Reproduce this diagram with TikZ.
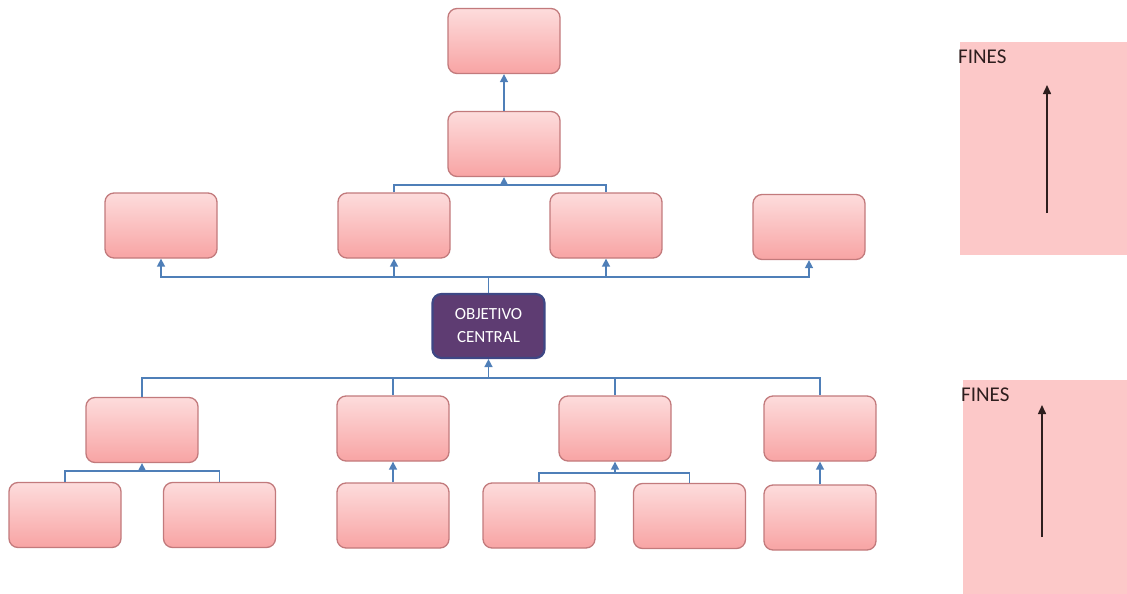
\documentclass[tikz,border=0pt]{standalone}
\usepackage{fontspec}
\setmainfont{Carlito}
\usetikzlibrary{arrows.meta}
\definecolor{boxedge}{HTML}{C27A7C}
\definecolor{boxtop}{HTML}{FDDCDC}
\definecolor{boxbot}{HTML}{F8A4A4}
\definecolor{linkblue}{HTML}{4F7FB8}
\definecolor{objfill}{HTML}{5E3C72}
\definecolor{objedge}{HTML}{3E4785}
\definecolor{panelpink}{HTML}{FCC8C8}
\definecolor{darkink}{HTML}{2E1E1E}
\tikzset{
  pinkbox/.style={draw=boxedge, line width=1.3pt, rounded corners=9pt,
    top color=boxtop, bottom color=boxbot,
    minimum width=112pt, minimum height=65pt, inner sep=0pt},
  objbox/.style={draw=objedge, line width=2.2pt, rounded corners=9pt,
    fill=objfill, text=white, font=\fontsize{17}{23}\selectfont,
    minimum width=112pt, minimum height=64pt, align=center, inner sep=0pt},
  link/.style={draw=linkblue, line width=1.6pt},
  linkarrow/.style={link, -{Triangle[length=8pt,width=8pt]}},
  panel/.style={fill=panelpink, draw=none},
  panellabel/.style={text=darkink, font=\fontsize{21}{21}\selectfont, anchor=west, inner sep=0pt},
  panelarrow/.style={draw=darkink, line width=1.5pt, -{Triangle[length=9pt,width=8pt]}}
}
\begin{document}
\begin{tikzpicture}[x=1pt,y=-1pt]
\useasboundingbox (0,0) rectangle (1127,594);

% side panels
\path[panel] (960,42) rectangle (1127,255);
\node[panellabel] (fines1) at (958,57) {FINES};
\coordinate (fa1) at (1047,213);
\coordinate (fb1) at (1047,85);
\draw[panelarrow] (fa1) -- (fb1);

\path[panel] (963,380) rectangle (1127,594);
\node[panellabel] (fines2) at (961,395) {FINES};
\coordinate (fa2) at (1042,537);
\coordinate (fb2) at (1042,405);
\draw[panelarrow] (fa2) -- (fb2);

% ends
\node[pinkbox] (t1) at (504,41) {};
\node[pinkbox] (t2) at (504,144) {};
\node[pinkbox] (r3a) at (161,225.5) {};
\node[pinkbox] (r3b) at (394,225.5) {};
\node[pinkbox] (r3c) at (606,225.5) {};
\node[pinkbox] (r3d) at (809,227) {};

% central objective
\node[objbox] (obj) at (488.5,326) {OBJETIVO\\CENTRAL};

% means
\node[pinkbox] (r4a) at (142,430) {};
\node[pinkbox] (r4b) at (393,428.5) {};
\node[pinkbox] (r4c) at (615,428.5) {};
\node[pinkbox] (r4d) at (820,428.5) {};

\node[pinkbox] (r5a) at (65,515) {};
\node[pinkbox] (r5b) at (219.5,515) {};
\node[pinkbox] (r5c) at (393,515.5) {};
\node[pinkbox] (r5d) at (539,515.5) {};
\node[pinkbox] (r5e) at (689.5,516) {};
\node[pinkbox] (r5f) at (820,517.5) {};

% upper connectors
\draw[linkarrow] (t2.north) -- (t1.south);
\coordinate (jt) at (504,185);
\draw[link] (r3b.north) |- (jt) -| (r3c.north);
\draw[linkarrow] (jt) -- (t2.south);

\coordinate (jo) at (488.5,277);
\draw[link] (obj.north) -- (jo);
\draw[linkarrow] (jo) -| (r3a.south);
\draw[linkarrow] (jo) -| (r3b.south);
\draw[linkarrow] (jo) -| (r3c.south);
\draw[linkarrow] (jo) -| (r3d.south);

% lower connectors
\coordinate (jm) at (488.5,378);
\draw[link] (jm) -| (r4a.north);
\draw[link] (jm) -| (r4b.north);
\draw[link] (jm) -| (r4c.north);
\draw[link] (jm) -| (r4d.north);
\draw[linkarrow] (jm) -- (obj.south);

\coordinate (ja) at (142,471);
\draw[link] (r5a.north) |- (ja) -| (r5b.north);
\draw[linkarrow] (ja) -- (r4a.south);

\draw[linkarrow] (r5c.north) -- (r4b.south);

\coordinate (jc) at (615,473);
\draw[link] (r5d.north) |- (jc) -| (r5e.north);
\draw[linkarrow] (jc) -- (r4c.south);

\draw[linkarrow] (r5f.north) -- (r4d.south);
\end{tikzpicture}
\end{document}
